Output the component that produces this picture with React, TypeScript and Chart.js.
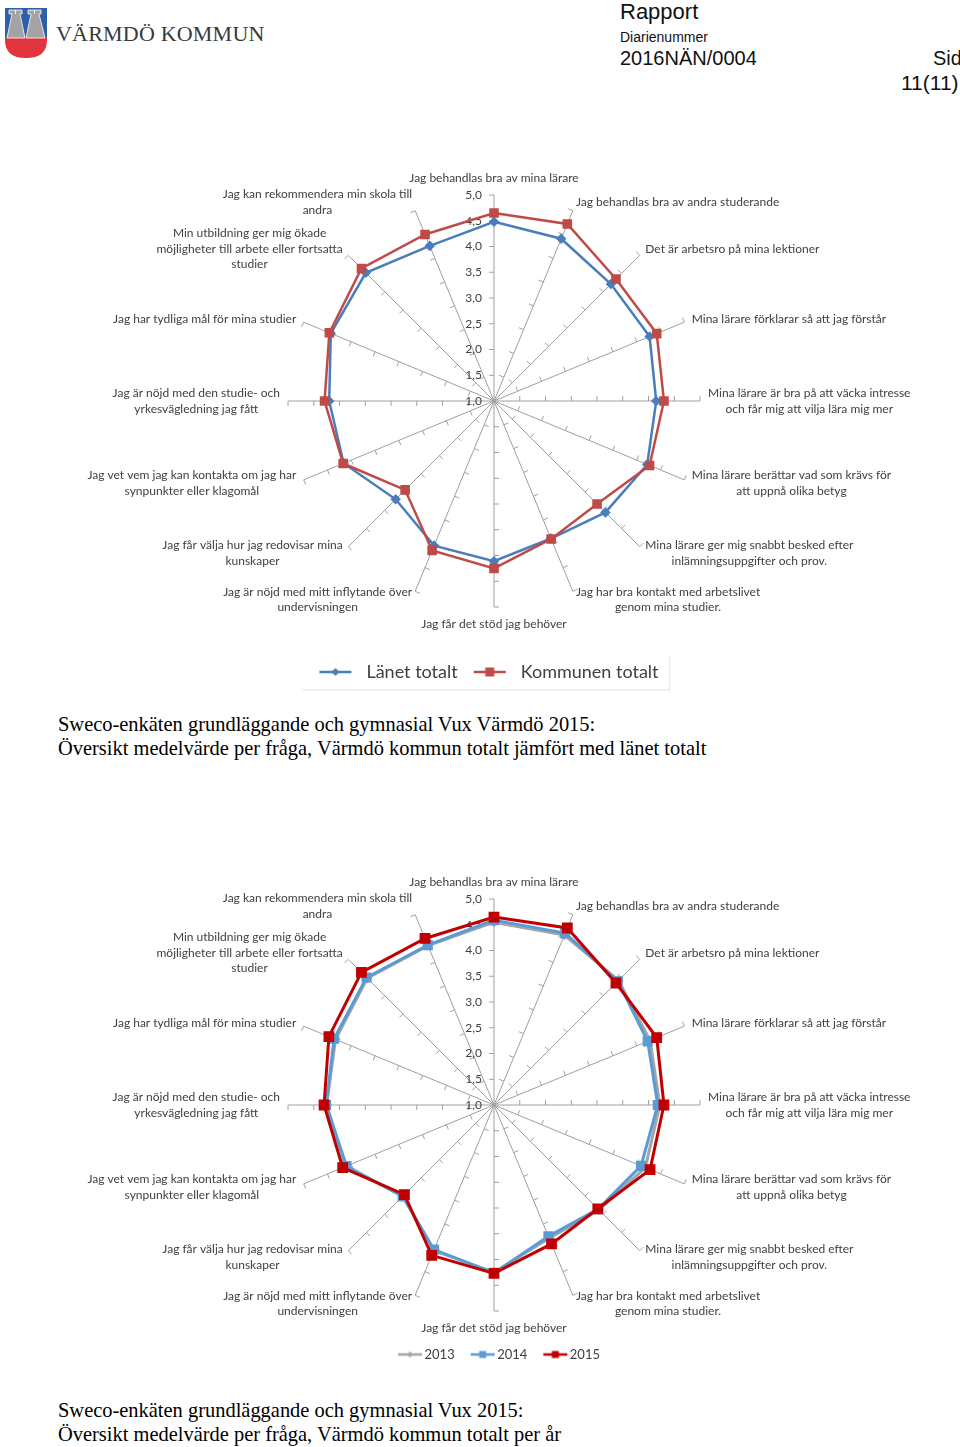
import React, { useEffect, useRef } from 'react';
import { Chart, registerables } from 'chart.js';

Chart.register(...registerables);

// ---------- data ----------
const QUESTIONS: string[][] = [
  ['Jag behandlas bra av mina lärare'],
  ['Jag behandlas bra av andra studerande'],
  ['Det är arbetsro på mina lektioner'],
  ['Mina lärare förklarar så att jag förstår'],
  ['Mina lärare är bra på att väcka intresse', 'och får mig att vilja lära mig mer'],
  ['Mina lärare berättar vad som krävs för', 'att uppnå olika betyg'],
  ['Mina lärare ger mig snabbt besked efter', 'inlämningsuppgifter och prov.'],
  ['Jag har bra kontakt med arbetslivet', 'genom mina studier.'],
  ['Jag får det stöd jag behöver'],
  ['Jag är nöjd med mitt inflytande över', 'undervisningen'],
  ['Jag får välja hur jag redovisar mina', 'kunskaper'],
  ['Jag vet vem jag kan kontakta om jag har', 'synpunkter eller klagomål'],
  ['Jag är nöjd med den studie- och', 'yrkesvägledning jag fått'],
  ['Jag har tydliga mål för mina studier'],
  ['Min utbildning ger mig ökade', 'möjligheter till arbete eller fortsatta', 'studier'],
  ['Jag kan rekommendera min skola till', 'andra'],
];

const TICK_VALUES = [1.0, 1.5, 2.0, 2.5, 3.0, 3.5, 4.0, 4.5, 5.0];

const LANET_TOTALT = [4.48, 4.41, 4.21, 4.27, 4.15, 4.22, 4.06, 3.89, 4.11, 4.04, 3.70, 4.16, 4.20, 4.43, 4.52, 4.26];
const KOMMUNEN_TOTALT = [4.65, 4.72, 4.35, 4.42, 4.30, 4.27, 3.83, 3.90, 4.25, 4.14, 3.44, 4.17, 4.29, 4.46, 4.64, 4.50];

const SERIES_2013 = [4.55, 4.57, 4.42, 4.28, 4.22, 4.18, 3.88, 3.80, 4.25, 4.06, 3.50, 4.12, 4.25, 4.33, 4.48, 4.35];
const SERIES_2014 = [4.59, 4.61, 4.40, 4.23, 4.18, 4.09, 3.86, 3.76, 4.26, 4.04, 3.51, 4.10, 4.26, 4.36, 4.50, 4.36];
const SERIES_2015 = [4.65, 4.72, 4.35, 4.42, 4.30, 4.28, 3.85, 3.92, 4.27, 4.16, 3.46, 4.18, 4.30, 4.47, 4.64, 4.50];

// ---------- helpers ----------
const LABEL_FONT = 'Lato';
const TEXT_COLOR = '#404040';
const SPOKE_COLOR = '#9f9f9f';

function fmt(v: number) {
  return v.toFixed(1).replace('.', ',');
}

function legendImage(color: string, marker: 'rect' | 'diamond', w: number, h: number, x0: number, x1: number, lw: number, r: number) {
  const c = document.createElement('canvas');
  c.width = w;
  c.height = h;
  const g = c.getContext('2d')!;
  g.strokeStyle = color;
  g.lineWidth = lw;
  g.beginPath();
  g.moveTo(x0, h / 2);
  g.lineTo(x1, h / 2);
  g.stroke();
  g.fillStyle = color;
  const cx = (x0 + x1) / 2;
  const cy = h / 2;
  if (marker === 'rect') {
    g.fillRect(cx - r, cy - r, 2 * r, 2 * r);
  } else {
    g.beginPath();
    g.moveTo(cx, cy - r);
    g.lineTo(cx + r, cy);
    g.lineTo(cx, cy + r);
    g.lineTo(cx - r, cy);
    g.closePath();
    g.fill();
  }
  return c;
}

const radarDecor = {
  id: 'radarDecor',
  afterLayout(chart: any, _args: any, opts: any) {
    const s = (opts && opts.legendShift) || 0;
    if (s && chart.legend) {
      chart.legend.left += s;
      chart.legend.right += s;
    }
  },
  beforeDatasetsDraw(chart: any) {
    const scale = chart.scales.r;
    const ctx: CanvasRenderingContext2D = chart.ctx;
    const labels: string[][] = chart.data.labels;
    const n = labels.length;
    const cx = scale.xCenter;
    const cy = scale.yCenter;
    ctx.save();
    // tick marks on each spoke
    ctx.strokeStyle = SPOKE_COLOR;
    ctx.lineWidth = 1;
    for (let i = 0; i < n; i++) {
      for (const v of TICK_VALUES) {
        if (v <= scale.min) continue;
        const p = scale.getPointPositionForValue(i, v);
        const dx = p.x - cx;
        const dy = p.y - cy;
        const len = Math.hypot(dx, dy) || 1;
        const ux = dx / len;
        const uy = dy / len;
        ctx.beginPath();
        ctx.moveTo(p.x, p.y);
        ctx.lineTo(p.x + uy * 5, p.y - ux * 5);
        ctx.stroke();
      }
    }
    // tick labels along the top spoke
    ctx.fillStyle = TEXT_COLOR;
    ctx.font = `12px ${LABEL_FONT}`;
    ctx.textAlign = 'right';
    ctx.textBaseline = 'middle';
    for (const v of TICK_VALUES) {
      const p = scale.getPointPositionForValue(0, v);
      ctx.fillText(fmt(v), cx - 12, p.y);
    }
    // category labels
    ctx.font = `12px ${LABEL_FONT}`;
    ctx.textAlign = 'center';
    const lh = 15.5;
    for (let i = 0; i < n; i++) {
      const lines = labels[i];
      const a = (i * 2 * Math.PI) / n;
      const end = scale.getPointPositionForValue(i, scale.max);
      const px = end.x + 8 * Math.sin(a);
      const py = end.y - 9 * Math.cos(a);
      const w = Math.max(...lines.map((l) => ctx.measureText(l).width));
      const h = lines.length * lh;
      const deg = (i * 360) / n;
      let centerX: number;
      let centerY: number;
      if (Math.abs(deg) < 0.01) {
        centerX = px;
        centerY = py - h / 2;
      } else if (Math.abs(deg - 180) < 0.01) {
        centerX = px;
        centerY = py + h / 2;
      } else if (deg < 180) {
        centerX = px + w / 2;
        centerY = py;
      } else {
        centerX = px - w / 2;
        centerY = py;
      }
      lines.forEach((l, k) => {
        ctx.fillText(l, centerX, centerY - h / 2 + lh / 2 + k * lh);
      });
    }
    ctx.restore();
  },
  afterDraw(chart: any, _args: any, opts: any) {
    if (!opts || !opts.frame) return;
    const lg = chart.legend;
    if (!lg || !lg.lineWidths) return;
    const ctx: CanvasRenderingContext2D = chart.ctx;
    const mid = (lg.left + lg.right) / 2;
    const half = lg.lineWidths[0] / 2;
    const left = mid - half - 6;
    const right = mid + half + 6;
    const top = lg.top + 4;
    const bottom = lg.bottom - 1;
    ctx.save();
    ctx.strokeStyle = '#ebebeb';
    ctx.lineWidth = 1.5;
    ctx.beginPath();
    ctx.moveTo(right, top);
    ctx.lineTo(right, bottom);
    ctx.lineTo(left, bottom);
    ctx.stroke();
    ctx.restore();
  },
};

function makeLegendLabels(images: HTMLCanvasElement[]) {
  return (chart: any) => {
    const items = Chart.defaults.plugins.legend.labels.generateLabels(chart);
    items.forEach((it: any) => {
      it.pointStyle = images[it.datasetIndex];
    });
    return items;
  };
}

function baseScale() {
  return {
    r: {
      min: 1,
      max: 5,
      ticks: { display: false, stepSize: 0.5 },
      grid: { display: false },
      angleLines: { display: true, color: SPOKE_COLOR, lineWidth: 1 },
      pointLabels: { display: false },
    },
  };
}

function config1(): any {
  const blue = '#4A7EBB';
  const red = '#BE4B48';
  const images = [
    legendImage(blue, 'diamond', 44, 14, 6, 38, 2.5, 4),
    legendImage(red, 'rect', 44, 14, 6, 38, 2.5, 4.5),
  ];
  return {
    type: 'radar',
    data: {
      labels: QUESTIONS,
      datasets: [
        {
          label: 'Länet totalt',
          data: LANET_TOTALT,
          borderColor: blue,
          backgroundColor: blue,
          pointBackgroundColor: blue,
          pointBorderColor: blue,
          pointStyle: 'rectRot',
          pointRadius: 3.5,
          borderWidth: 2.5,
          fill: false,
          order: 2,
        },
        {
          label: 'Kommunen totalt',
          data: KOMMUNEN_TOTALT,
          borderColor: red,
          backgroundColor: red,
          pointBackgroundColor: red,
          pointBorderColor: red,
          pointStyle: 'rect',
          pointRadius: 5,
          borderWidth: 2.5,
          fill: false,
          order: 1,
        },
      ],
    },
    options: {
      responsive: false,
      animation: false,
      events: [],
      layout: { padding: { top: 9, left: 288, right: 260, bottom: 9 } },
      scales: baseScale(),
      plugins: {
        tooltip: { enabled: false },
        radarDecor: { frame: true, legendShift: -8 },
        legend: {
          position: 'bottom',
          labels: {
            usePointStyle: true,
            pointStyleWidth: 44,
            padding: 10,
            color: TEXT_COLOR,
            font: { family: LABEL_FONT, size: 18 },
            sort: (a: any, b: any) => a.datasetIndex - b.datasetIndex,
            generateLabels: makeLegendLabels(images),
          },
        },
      },
    },
    plugins: [radarDecor],
  };
}

function config2(): any {
  const gray = '#A5A5A5';
  const blue = '#5B9BD5';
  const red = '#C00000';
  const images = [
    legendImage(gray, 'diamond', 26, 12, 1, 25, 2.5, 3),
    legendImage(blue, 'rect', 26, 12, 1, 25, 2.5, 3.5),
    legendImage(red, 'rect', 26, 12, 1, 25, 2.5, 3.5),
  ];
  return {
    type: 'radar',
    data: {
      labels: QUESTIONS,
      datasets: [
        {
          label: '2013',
          data: SERIES_2013,
          borderColor: gray,
          backgroundColor: gray,
          pointBackgroundColor: gray,
          pointBorderColor: gray,
          pointStyle: 'rectRot',
          pointRadius: 3,
          borderWidth: 3,
          fill: false,
          order: 3,
        },
        {
          label: '2014',
          data: SERIES_2014,
          borderColor: blue,
          backgroundColor: blue,
          pointBackgroundColor: blue,
          pointBorderColor: blue,
          pointStyle: 'rect',
          pointRadius: 5,
          borderWidth: 3,
          fill: false,
          order: 2,
        },
        {
          label: '2015',
          data: SERIES_2015,
          borderColor: red,
          backgroundColor: red,
          pointBackgroundColor: red,
          pointBorderColor: red,
          pointStyle: 'rect',
          pointRadius: 5.5,
          borderWidth: 3,
          fill: false,
          order: 1,
        },
      ],
    },
    options: {
      responsive: false,
      animation: false,
      events: [],
      layout: { padding: { top: 42, left: 288, right: 260, bottom: 9 } },
      scales: baseScale(),
      plugins: {
        tooltip: { enabled: false },
        radarDecor: { frame: false, legendShift: 7 },
        legend: {
          position: 'bottom',
          labels: {
            usePointStyle: true,
            pointStyleWidth: 16,
            padding: 20,
            color: TEXT_COLOR,
            font: { family: LABEL_FONT, size: 13 },
            sort: (a: any, b: any) => a.datasetIndex - b.datasetIndex,
            generateLabels: makeLegendLabels(images),
          },
        },
      },
    },
    plugins: [radarDecor],
  };
}

function RadarCanvas({ top, height, make }: { top: number; height: number; make: () => any }) {
  const ref = useRef<HTMLCanvasElement>(null);
  useEffect(() => {
    const chart = new Chart(ref.current as HTMLCanvasElement, make());
    return () => chart.destroy();
  }, []);
  return (
    <canvas
      ref={ref}
      width={960}
      height={height}
      style={{ position: 'absolute', left: 0, top, width: 960, height }}
    />
  );
}

function Logo() {
  return (
    <svg width={50} height={62} style={{ position: 'absolute', left: 0, top: 0 }} viewBox="0 0 50 62">
      <defs>
        <clipPath id="shield">
          <path d="M5,8 H47 V40 Q47,58 26,58 Q5,58 5,40 Z" />
        </clipPath>
      </defs>
      <g clipPath="url(#shield)">
        <rect x={0} y={0} width={50} height={38} fill="#2f5fa8" />
        <rect x={0} y={38} width={50} height={30} fill="#e2343c" />
        <path d="M9,10 H22 V14 H20 L25,38 H7 L12,14 H9 Z" fill="#a3a3a3" stroke="#ffffff" strokeWidth={0.8} />
        <path d="M28,10 H41 V14 H39 L45,38 H26 L31,14 H28 Z" fill="#a3a3a3" stroke="#ffffff" strokeWidth={0.8} />
        <line x1={15.5} y1={10} x2={15.5} y2={14} stroke="#ffffff" strokeWidth={0.8} />
        <line x1={34.5} y1={10} x2={34.5} y2={14} stroke="#ffffff" strokeWidth={0.8} />
      </g>
    </svg>
  );
}

const sans = '"Liberation Sans", Arial, sans-serif';
const serif = '"Liberation Serif", "Times New Roman", serif';

export default function App() {
  const abs = (x: number, y: number, extra: React.CSSProperties = {}): React.CSSProperties => ({
    position: 'absolute',
    left: x,
    top: y,
    whiteSpace: 'nowrap',
    lineHeight: 1,
    ...extra,
  });
  return (
    <div style={{ position: 'absolute', left: 0, top: 0, width: 960, height: 1447, background: '#fff', overflow: 'hidden' }}>
      <Logo />
      <div style={abs(56, 23, { fontFamily: serif, fontSize: 22, color: '#3a3a3a', letterSpacing: 0.2 })}>VÄRMDÖ KOMMUN</div>
      <div style={abs(620, 1, { fontFamily: sans, fontSize: 22, color: '#111' })}>Rapport</div>
      <div style={abs(620, 30, { fontFamily: sans, fontSize: 14, color: '#111' })}>Diarienummer</div>
      <div style={abs(620, 48, { fontFamily: sans, fontSize: 20, color: '#111' })}>2016NÄN/0004</div>
      <div style={abs(933, 48, { fontFamily: sans, fontSize: 20, color: '#111' })}>Sid</div>
      <div style={abs(901, 72, { fontFamily: sans, fontSize: 21, color: '#111' })}>11(11)</div>

      <RadarCanvas top={140} height={560} make={config1} />

      <div style={abs(58, 712, { fontFamily: serif, fontSize: 20.45, color: '#000', lineHeight: '24px' })}>
        Sweco-enkäten grundläggande och gymnasial Vux Värmdö 2015:
        <br />
        Översikt medelvärde per fråga, Värmdö kommun totalt jämfört med länet totalt
      </div>

      <RadarCanvas top={840} height={540} make={config2} />

      <div style={abs(58, 1398, { fontFamily: serif, fontSize: 20.45, color: '#000', lineHeight: '24px' })}>
        Sweco-enkäten grundläggande och gymnasial Vux 2015:
        <br />
        Översikt medelvärde per fråga, Värmdö kommun totalt per år
      </div>
    </div>
  );
}
